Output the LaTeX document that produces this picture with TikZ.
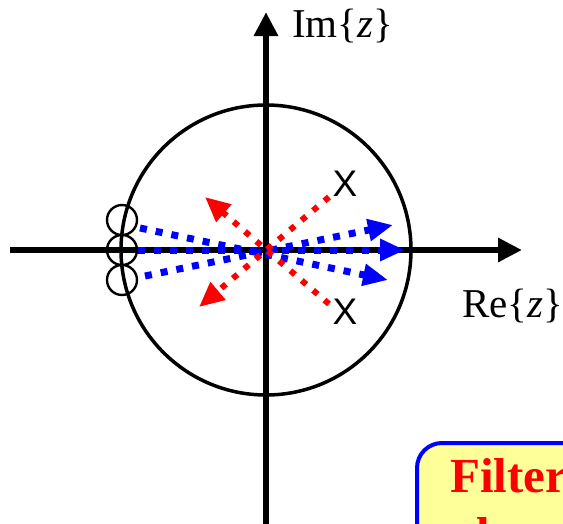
\documentclass[tikz,border=0pt]{standalone}
\usepackage{fontspec}
\setmainfont{Liberation Serif}
\newfontfamily\arialfont{Liberation Sans}
\usetikzlibrary{arrows.meta}
\definecolor{boxyellow}{RGB}{255,255,153}
\tikzset{
  axis/.style={line width=6pt, -{Triangle[length=24pt,width=23pt]}},
  unitcirc/.style={line width=3.5pt},
  zeromark/.style={circle, draw, line width=2.4pt, minimum size=30pt, inner sep=0pt},
  polemark/.style={font=\arialfont\fontsize{37}{37}\selectfont, inner sep=0pt},
  bluevec/.style={draw=blue, line width=7pt, dash pattern=on 7pt off 9pt, -{Triangle[length=25pt,width=21pt]}, color=blue},
  redvec/.style={draw=red, line width=6pt, dash pattern=on 6pt off 9pt, -{Triangle[length=25pt,width=22pt]}, color=red},
  axlabel/.style={font=\fontsize{41}{44}\selectfont, inner sep=0pt, anchor=base west},
  boxtext/.style={font=\bfseries\fontsize{49}{56}\selectfont, text=red, inner sep=0pt, anchor=base west}
}
\begin{document}
\begin{tikzpicture}[x=1pt,y=-1pt]
\useasboundingbox (0,0) rectangle (563,523);
\clip (0,0) rectangle (563,523);
% axes
\coordinate (xs) at (10,250);
\coordinate (xe) at (522,250);
\coordinate (ys) at (266,530);
\coordinate (ye) at (266,12);
\coordinate (o) at (266,250);
\draw[axis] (xs) -- (xe);
\draw[axis] (ys) -- (ye);
% unit circle
\draw[unitcirc] (o) circle (145pt);
% zeros
\node[zeromark] (z1) at (122,220) {};
\node[zeromark] (z2) at (122,250) {};
\node[zeromark] (z3) at (122,280) {};
% poles
\node[polemark] (p1) at (345,184) {X};
\node[polemark] (p2) at (345,312) {X};
% vector end points
\coordinate (b1s) at (140,228);
\coordinate (b1e) at (388,280);
\coordinate (b2s) at (138,250);
\coordinate (b2e) at (405,250);
\coordinate (b3s) at (145,276);
\coordinate (b3e) at (393,225);
\coordinate (r1s) at (329,197);
\coordinate (r1e) at (199,307);
\coordinate (r2s) at (329,304);
\coordinate (r2e) at (205,197);
% blue vectors
\draw[bluevec] (b1s) -- (b1e);
\draw[bluevec] (b3s) -- (b3e);
\draw[bluevec] (b2s) -- (b2e);
% red vectors
\draw[redvec] (r1s) -- (r1e);
\draw[redvec] (r2s) -- (r2e);
% labels
\node[axlabel] (im) at (292,37) {Im\{\textit{z}\}};
\node[axlabel] (re) at (462,317) {Re\{\textit{z}\}};
% box
\draw[rounded corners=25pt, line width=4pt, draw=blue, fill=boxyellow] (417,443) rectangle (640,640);
\node[boxtext] (f1) at (450,492) {Filter};
\node[boxtext] (f2) at (476,551) {l};
\end{tikzpicture}
\end{document}
